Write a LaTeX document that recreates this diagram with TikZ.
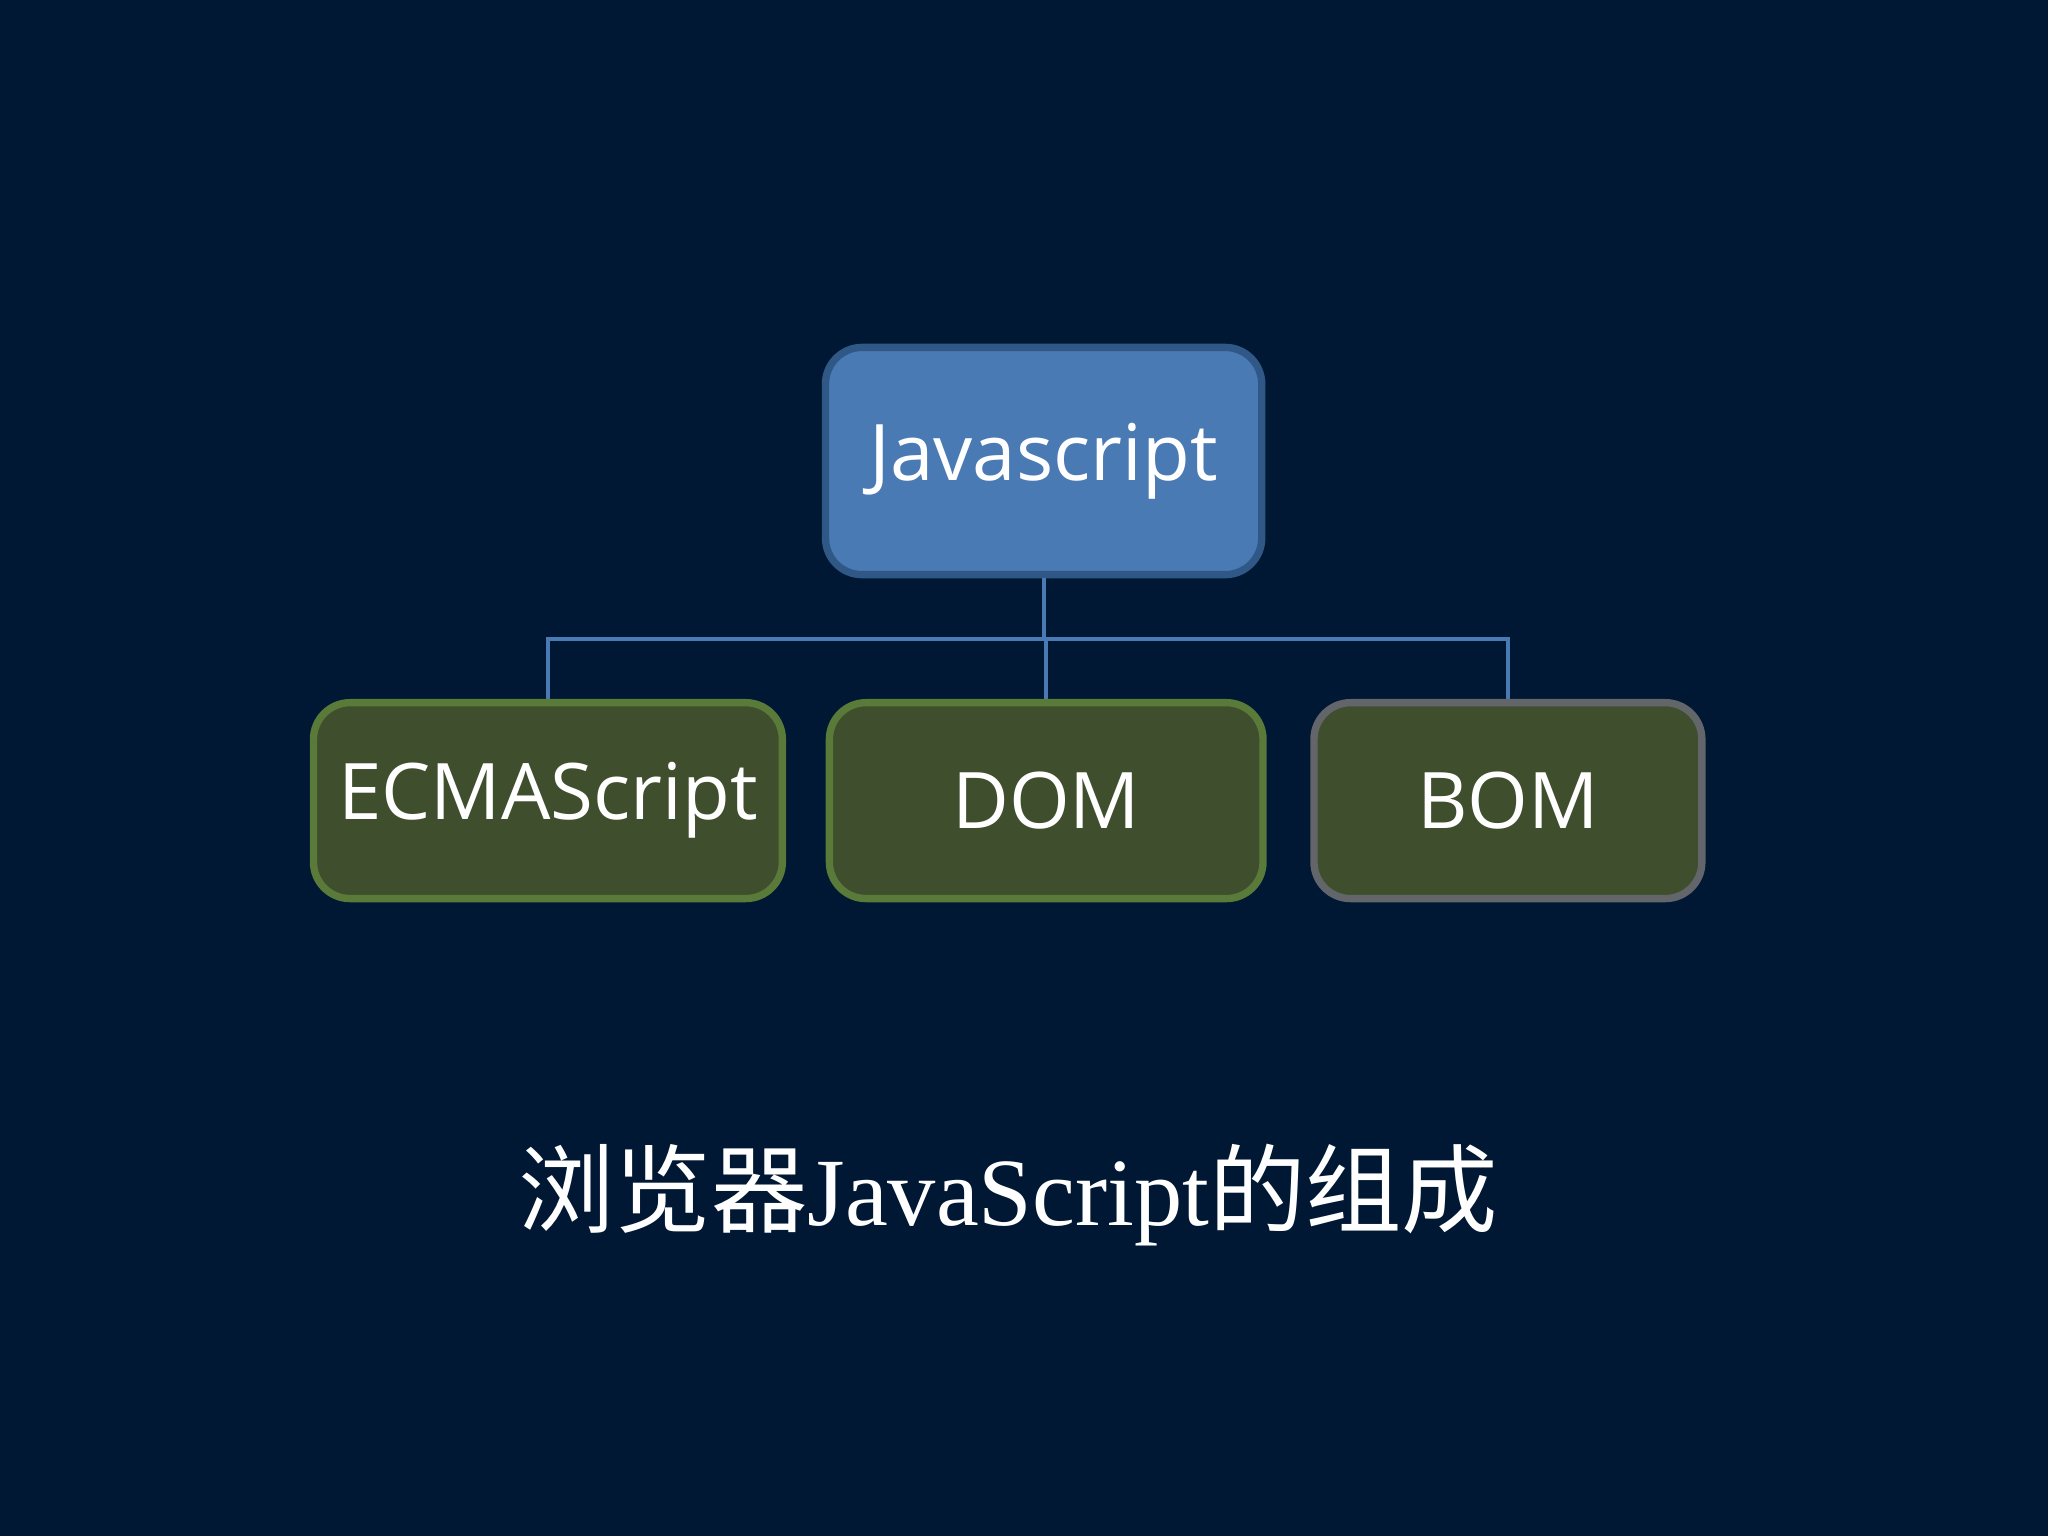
\documentclass[tikz,border=0pt]{standalone}
\usepackage{fontspec}
\setmainfont{Liberation Serif}
\setsansfont{Open Sans}
\newfontfamily\cjk{Noto Sans CJK SC}
\definecolor{bgblue}{HTML}{001833}
\definecolor{topfill}{HTML}{4A7AB4}
\definecolor{topline}{HTML}{2F5887}
\definecolor{leaffill}{HTML}{3F4F2D}
\definecolor{leafline}{HTML}{5A7A3A}
\definecolor{grayline}{HTML}{62666A}
\tikzset{
  box/.style={rounded corners=0.28cm, line width=1.6pt, text=white,
    font=\sffamily\fontsize{17}{20}\selectfont, inner sep=0pt},
  leaf/.style={box, fill=leaffill, draw=leafline, minimum height=1.5cm},
  link/.style={draw=topfill, line width=0.9pt}
}
\begin{document}
\begin{tikzpicture}

    \fill[bgblue] (0,0) rectangle (15.68,11.76);

    \node[box, fill=topfill, draw=topline, minimum width=3.34cm, minimum height=1.74cm] (js) at (7.99,8.23) {Javascript};

    \node[leaf, minimum width=3.59cm] (ecma) at (4.195,5.63) {ECMAScript};
    \node[leaf, minimum width=3.32cm] (dom) at (8.01,5.63) {DOM};
    \node[leaf, draw=grayline, minimum width=2.97cm] (bom) at (11.545,5.63) {BOM};

    \coordinate (bar) at (7.99,6.87);
    \draw[link] (js.south) -- (bar);
    \foreach \n in {ecma,dom,bom}{
    \draw[link] (bar) -| (\n.north);
}

    \node[text=white, font=\fontsize{21}{24}\selectfont] (title) at (7.72,2.61) {{\cjk 浏览器}JavaScript{\cjk 的组成}};

\end{tikzpicture}
\end{document}
